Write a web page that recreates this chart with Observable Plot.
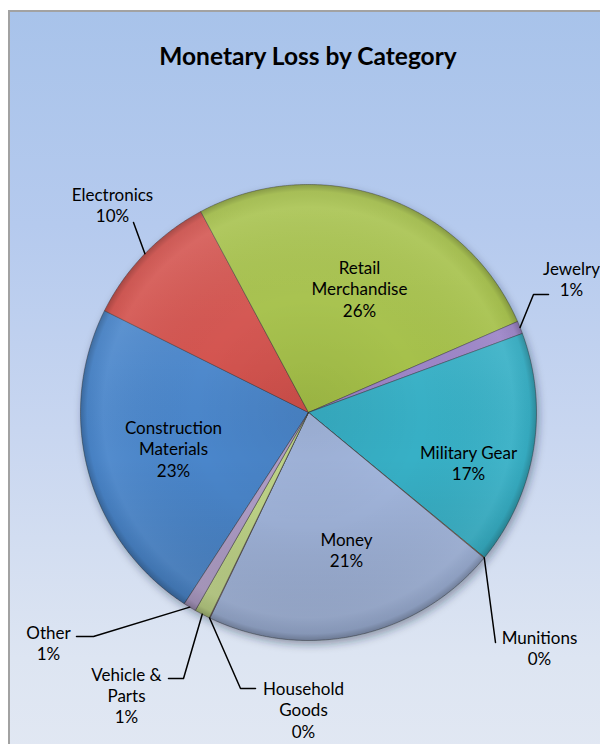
<!DOCTYPE html>
<html>
<head>
<meta charset="utf-8">
<script src="https://cdn.jsdelivr.net/npm/d3@7"></script>
<script src="https://cdn.jsdelivr.net/npm/@observablehq/plot@0.6"></script>
<style>
  html, body { margin: 0; padding: 0; background: #fff; width: 600px; height: 744px; overflow: hidden; }
  #frame {
    position: absolute; left: 8px; top: 10px; width: 640px; height: 760px;
    border-top: 2px solid #a2a2a2; border-left: 2px solid #a2a2a2;
    background: linear-gradient(180deg, #a8c3ea 0%, #b5caee 28%, #c8d6f0 55%, #dde5f2 85%, #e2e8f3 100%);
  }
  #title {
    position: absolute; left: 0; top: 0; width: 596px; height: 87px; line-height: 87px;
    text-align: center; font-family: Lato, "Open Sans", sans-serif; font-weight: 700; font-size: 24.5px; color: #000;
  }
  #chart { position: absolute; left: 0; top: 88px; }
</style>
</head>
<body>
<div id="frame">
  <div id="title">Monetary Loss by Category</div>
  <div id="chart"></div>
</div>
<script>
// ---- data ----
const categories = ["Construction Materials", "Electronics", "Retail Merchandise", "Jewelry", "Military Gear",
                    "Munitions", "Money", "Household Goods", "Vehicle & Parts", "Other"];
const shares = [23.2, 9.8, 26.3, 0.9, 16.6, 0.05, 21.1, 0.05, 1.1, 0.9];   // percent of total loss
const labelNames = ["Construction\nMaterials", "Electronics", "Retail\nMerchandise", "Jewelry", "Military Gear",
                    "Munitions", "Money", "Household\nGoods", "Vehicle &\nParts", "Other"];

// ---- style / layout ----
const palette = ["#4a86cb", "#d24f4a", "#a3bf45", "#9a82c6", "#37b0c6",
                 "#f79646", "#a3b7de", "#d99694", "#c2d78a", "#b2a0ca"];
const startAngle = 213;          // degrees clockwise from 12 o'clock
const R = 228, CX = 298, CY = 312, W = 600, H = 660;
// label centres and leader-line bends, pixel offsets from the pie centre (y down)
const labelLayout = {
  "Construction Materials": {at: [-135, 36]},
  "Electronics":            {at: [-196, -208], leader: [[-175, -190]]},
  "Retail Merchandise":     {at: [51, -124]},
  "Jewelry":                {at: [263, -133.5], leader: [[225, -118], [240, -118]]},
  "Military Gear":          {at: [160, 50.5]},
  "Munitions":              {at: [231, 235], leader: [[187, 230]]},
  "Money":                  {at: [38, 137]},
  "Household Goods":        {at: [-5, 297], leader: [[-68, 276], [-53, 276]]},
  "Vehicle & Parts":        {at: [-182, 282.5], leader: [[-125, 266], [-140, 266]]},
  "Other":                  {at: [-260, 230.5], leader: [[-215, 224], [-232, 224]]}
};

// ---- geometry from data ----
const total = d3.sum(shares);
const slicePts = [], leaderPts = [], labels = [];
let a = startAngle;
categories.forEach((c, i) => {
  const span = shares[i] / total * 360;
  const a0 = a, a1 = a + span;
  const rad = d => d * Math.PI / 180;
  slicePts.push({category: c, x: 0, y: 0});
  const n = Math.max(2, Math.ceil(span / 0.5));
  for (let k = 0; k <= n; k++) {
    const t = rad(a0 + (a1 - a0) * k / n);
    slicePts.push({category: c, x: Math.sin(t), y: Math.cos(t)});
  }
  slicePts.push({category: c, x: 0, y: 0});
  const mid = rad((a0 + a1) / 2);
  const L = labelLayout[c];
  if (L.leader) {
    leaderPts.push({category: c, x: Math.sin(mid), y: Math.cos(mid)});
    L.leader.forEach(([dx, dy]) => leaderPts.push({category: c, x: dx / R, y: -dy / R}));
  }
  labels.push({category: c, x: L.at[0] / R, y: -L.at[1] / R,
               text: labelNames[i] + "\n" + Math.round(shares[i] / total * 100) + "%"});
  a = a1;
});

const chart = Plot.plot({
  width: W, height: H, margin: 0,
  style: {background: "transparent", fontFamily: "Lato, 'Open Sans', sans-serif", overflow: "visible"},
  x: {domain: [-1, 1], range: [CX - R, CX + R], axis: null},
  y: {domain: [-1, 1], range: [CY + R, CY - R], axis: null},
  color: {domain: categories, range: palette},
  marks: [
    // soft drop shadow
    Plot.line(slicePts, {x: "x", y: "y", z: "category", fill: "#1a2a40", fillOpacity: 0.4, stroke: "none", dx: 2, dy: 4}),
    // slices
    Plot.line(slicePts, {x: "x", y: "y", z: "category", fill: "category", stroke: "#333",
                         strokeOpacity: 0.55, strokeWidth: 0.8, strokeLinejoin: "round"}),
    // lighting overlays
    Plot.line(slicePts, {x: "x", y: "y", z: "category", fill: "url(#pieShade)", stroke: "none"}),
    Plot.line(slicePts, {x: "x", y: "y", z: "category", fill: "url(#pieRim)", stroke: "none"}),
    // leader lines and labels
    Plot.line(leaderPts, {x: "x", y: "y", z: "category", stroke: "#000", strokeWidth: 1.5, fill: "none"}),
    Plot.text(labels, {x: "x", y: "y", text: "text", fontSize: 17, lineHeight: 1.25, fill: "#000",
                       textAnchor: "middle", lineAnchor: "middle"})
  ]
});

// lighting gradients and shadow blur positioned from the plot's own scales
const sx = chart.scale("x"), sy = chart.scale("y");
const cx = sx.apply(0), cy = sy.apply(0), r = sx.apply(1) - cx;
const defs = d3.select(chart).insert("defs", ":first-child");
const lg = defs.append("linearGradient").attr("id", "pieShade").attr("gradientUnits", "userSpaceOnUse")
  .attr("x1", cx).attr("y1", cy - r).attr("x2", cx).attr("y2", cy + r);
[[0, "#fff", 0.12], [0.4, "#fff", 0.03], [0.6, "#000", 0], [1, "#000", 0.15]].forEach(([o, c, op]) =>
  lg.append("stop").attr("offset", o).attr("stop-color", c).attr("stop-opacity", op));
const rg = defs.append("radialGradient").attr("id", "pieRim").attr("gradientUnits", "userSpaceOnUse")
  .attr("cx", cx).attr("cy", cy).attr("r", r);
[[0, "#000", 0.06], [0.5, "#000", 0], [0.9, "#fff", 0.05], [0.97, "#000", 0.04], [1, "#000", 0.22]].forEach(([o, c, op]) =>
  rg.append("stop").attr("offset", o).attr("stop-color", c).attr("stop-opacity", op));
defs.append("filter").attr("id", "blur").attr("x", "-20%").attr("y", "-20%").attr("width", "140%").attr("height", "140%")
  .append("feGaussianBlur").attr("stdDeviation", 4);
const lineGroups = d3.select(chart).selectAll('g[aria-label="line"]').nodes();
if (lineGroups.length) d3.select(lineGroups[0]).attr("filter", "url(#blur)");

document.getElementById("chart").appendChild(chart);
</script>
</body>
</html>
